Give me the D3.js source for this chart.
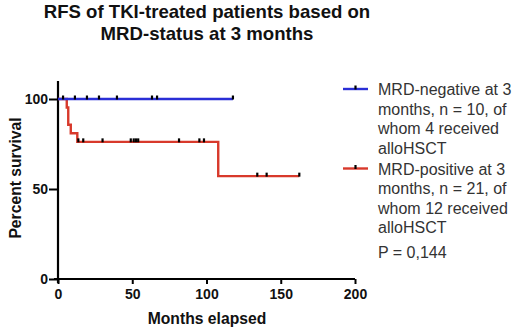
<!DOCTYPE html>
<html>
<head>
<meta charset="utf-8">
<script src="https://cdn.jsdelivr.net/npm/d3@7"></script>
<style>
  html, body { margin: 0; padding: 0; background: #fff; }
  svg { display: block; font-family: "Liberation Sans", Arial, sans-serif; }
</style>
</head>
<body>
<svg id="chart"></svg>
<script>
// Kaplan-Meier RFS by MRD status at 3 months

const W = 520, H = 331;

const BLUE = "#2a2ed6";
const RED = "#d8392b";

// x ticks / y ticks
const xTicks = [0, 50, 100, 150, 200];
const yTicks = [0, 50, 100];

// MRD-negative: flat at 100 until last follow-up
const negTimes = [0, 117.8];
const negSurv = [100, 100];
const negCensor = [3.4, 11.4, 19.5, 27.6, 39.7, 63.3, 66.7, 117.8];

// MRD-positive: step function (time of step, survival after step)
const posTimes = [0, 5.9, 6.9, 8.6, 13, 107.9, 162.5];
const posSurv = [100, 95.24, 85.71, 80.95, 76.19, 57.14, 57.14];
const posCensor = [13.7, 17, 30, 49, 51, 52.5, 54, 81.5, 95.2, 98.3, 134.2, 140.5, 162.5];

const legendLabels = [
  ["MRD-negative at 3", "months, n = 10, of", "whom 4 received", "alloHSCT"],
  ["MRD-positive at 3", "months, n = 21, of", "whom 12 received", "alloHSCT"]
];
const pText = "P = 0,144";

const svg = d3.select("#chart").attr("width", W).attr("height", H);

const x = d3.scaleLinear().domain([0, 200]).range([58, 355]);
const y = d3.scaleLinear().domain([0, 110]).range([279, 81]);

// ---- Title ----
svg.append("text")
  .attr("x", 207).attr("y", 18)
  .attr("text-anchor", "middle")
  .attr("font-size", 18.6).attr("font-weight", 700).attr("fill", "#111")
  .text("RFS of TKI-treated patients based on");
svg.append("text")
  .attr("x", 207).attr("y", 40)
  .attr("text-anchor", "middle")
  .attr("font-size", 18.6).attr("font-weight", 700).attr("fill", "#111")
  .text("MRD-status at 3 months");

// ---- Axes ----
const xAxis = svg.append("g")
  .attr("transform", `translate(0,${y(0)})`)
  .call(d3.axisBottom(x).tickValues(xTicks).tickSize(5).tickSizeOuter(0).tickPadding(5));
const yAxis = svg.append("g")
  .attr("transform", `translate(${x(0)},0)`)
  .call(d3.axisLeft(y).tickValues(yTicks).tickSize(9).tickSizeOuter(0).tickPadding(1));

[xAxis, yAxis].forEach(a => {
  a.select(".domain").attr("stroke", "#000").attr("stroke-width", 2.2);
  a.selectAll(".tick line").attr("stroke", "#000").attr("stroke-width", 2);
  a.selectAll(".tick text")
    .attr("fill", "#111").attr("font-size", 14).attr("font-weight", 700)
    .attr("font-family", "Liberation Sans, Arial, sans-serif");
});
// x axis line extends a little left of zero
xAxis.select(".domain").attr("d", `M${x(0) - 4},0H${x(200)}`);
// y axis spans full domain
yAxis.select(".domain").attr("d", `M0,${y(110)}V${y(0) + 4}`);

// axis titles
svg.append("text")
  .attr("x", 207).attr("y", 324)
  .attr("text-anchor", "middle")
  .attr("font-size", 15.7).attr("font-weight", 700).attr("fill", "#111")
  .text("Months elapsed");
svg.append("text")
  .attr("transform", `translate(21,178) rotate(-90)`)
  .attr("text-anchor", "middle")
  .attr("font-size", 15.7).attr("font-weight", 700).attr("fill", "#111")
  .text("Percent survival");

// ---- KM curves ----
const stepLine = d3.line().x(d => x(d[0])).y(d => y(d[1])).curve(d3.curveStepAfter);

const negData = negTimes.map((t, i) => [t, negSurv[i]]);
const posData = posTimes.map((t, i) => [t, posSurv[i]]);

function survAt(times, surv, t) {
  let s = surv[0];
  for (let i = 0; i < times.length; i++) if (times[i] <= t) s = surv[i];
  return s;
}

svg.append("path").datum(posData)
  .attr("fill", "none").attr("stroke", RED).attr("stroke-width", 2.4)
  .attr("d", stepLine);
svg.append("path").datum(negData)
  .attr("fill", "none").attr("stroke", BLUE).attr("stroke-width", 2.4)
  .attr("d", stepLine);

function censorMarks(list, times, surv) {
  svg.append("g").selectAll("line").data(list).join("line")
    .attr("x1", d => x(d)).attr("x2", d => x(d))
    .attr("y1", d => y(survAt(times, surv, d)) - 3.5)
    .attr("y2", d => y(survAt(times, surv, d)) + 0.5)
    .attr("stroke", "#000").attr("stroke-width", 2.2);
}
censorMarks(negCensor, negTimes, negSurv);
censorMarks(posCensor, posTimes, posSurv);

// ---- Legend ----
const legendColors = [BLUE, RED];
const legendTop = [89, 168.5];
legendLabels.forEach((lines, i) => {
  const ly = legendTop[i];
  svg.append("line")
    .attr("x1", 343).attr("x2", 368).attr("y1", ly).attr("y2", ly)
    .attr("stroke", legendColors[i]).attr("stroke-width", 2.4);
  svg.append("line")
    .attr("x1", 355.5).attr("x2", 355.5).attr("y1", ly - 3.5).attr("y2", ly + 0.5)
    .attr("stroke", "#000").attr("stroke-width", 2.2);
  lines.forEach((t, j) => {
    svg.append("text")
      .attr("x", 378).attr("y", ly + 6 + j * 19.6)
      .attr("font-size", 16).attr("fill", "#333")
      .text(t);
  });
});
svg.append("text")
  .attr("x", 378).attr("y", 258)
  .attr("font-size", 16).attr("fill", "#333")
  .text(pText);
</script>
</body>
</html>
